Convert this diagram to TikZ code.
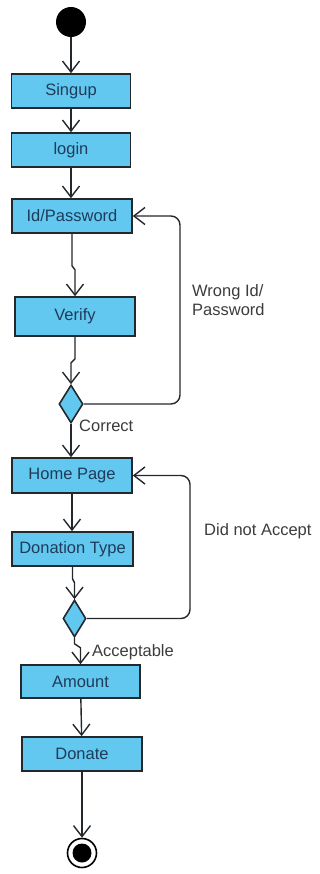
\documentclass[tikz,border=0pt]{standalone}
\usepackage{fontspec}
\setmainfont{Liberation Sans}
\usetikzlibrary{arrows.meta,shapes.geometric}

\definecolor{actfill}{RGB}{98,200,240}
\definecolor{actedge}{RGB}{35,40,45}
\definecolor{acttext}{RGB}{30,60,90}
\definecolor{labtext}{RGB}{60,60,60}

\tikzset{
  activity/.style={draw=actedge, fill=actfill, line width=1.6pt, inner sep=0pt,
    minimum width=119pt, minimum height=34pt, text=acttext,
    font=\fontsize{16.5}{19}\selectfont},
  decision/.style={draw=actedge, fill=actfill, line width=1.6pt, diamond, inner sep=0pt,
    minimum width=24pt, minimum height=38pt},
  flow/.style={draw=actedge, line width=1.4pt,
    -{Straight Barb[length=11pt,width=17pt,line width=1.4pt]}},
  guard/.style={text=labtext, font=\fontsize{16.5}{19}\selectfont, inner sep=0pt},
}

\begin{document}
\begin{tikzpicture}[x=1pt,y=-1pt]
  \useasboundingbox (0,0) rectangle (320,874);

  % start and end states
  \node[circle, fill=black, minimum size=30pt, inner sep=0pt] (start) at (71,22) {};
  \node[circle, draw=black, line width=1.6pt, fill=white, minimum size=29pt, inner sep=0pt] (finish) at (82,853) {};
  \node[circle, fill=black, minimum size=19pt, inner sep=0pt] (finishdot) at (82,853) {};

  % activities
  \node[activity] (singup) at (71,91) {Singup};
  \node[activity] (login) at (71,150) {login};
  \node[activity, minimum width=120pt] (idpw) at (72,216) {Id/Password};
  \node[activity, minimum width=120pt, minimum height=39pt] (verify) at (75,316.5) {Verify};
  \node[decision] (check) at (71,404) {};
  \node[activity, minimum width=120pt, minimum height=35pt] (home) at (72,475.5) {Home Page};
  \node[activity, minimum width=121pt] (dtype) at (72.5,549) {Donation Type};
  \node[decision, minimum width=23pt, minimum height=37pt] (accept) at (74.5,618.5) {};
  \node[activity, minimum height=33pt] (amount) at (80.5,681.5) {Amount};
  \node[activity, minimum width=120pt] (donate) at (82,754) {Donate};

  % loop-back corners
  \coordinate (loopA) at (180,300);
  \coordinate (loopB) at (190,540);

  % main flow (y grows downward, so positive steps go down)
  \draw[flow] (start) -- (singup);
  \draw[flow] (singup) -- (login);
  \draw[flow] (login.south) -- (login.south |- idpw.north);
  \draw[flow] (idpw.south) -- ++(0,32) -- ++(3,4) -- (verify.north);
  \draw[flow] (verify.south) -- ++(0,22) -- ++(-4,4) -- (check.north);
  \draw[flow] (check.south) -- (check.south |- home.north);
  \draw[flow] (home.south) -- (home.south |- dtype.north);
  \draw[flow] (dtype.south) -- ++(0,12) -- ++(2,4) -- (accept.north);
  \draw[flow] (accept.south) -- ++(0,6) -- ++(6,4) -- (amount.north);
  \draw[flow] (amount) -- (donate);
  \draw[flow] (donate) -- (finish);

  % loops back
  \draw[flow, rounded corners=9pt] (check.east) -| (loopA) |- (idpw.east);
  \draw[flow, rounded corners=9pt] (accept.east) -| (loopB) |- (home.east);

  % guard labels
  \node[guard, anchor=west, align=left] (wrong) at (192,300) {Wrong Id/\\Password};
  \node[guard, anchor=west] (correct) at (79,426) {Correct};
  \node[guard, anchor=west] (notacc) at (204,531) {Did not Accept};
  \node[guard, anchor=west] (acc) at (92,652) {Acceptable};
\end{tikzpicture}
\end{document}
